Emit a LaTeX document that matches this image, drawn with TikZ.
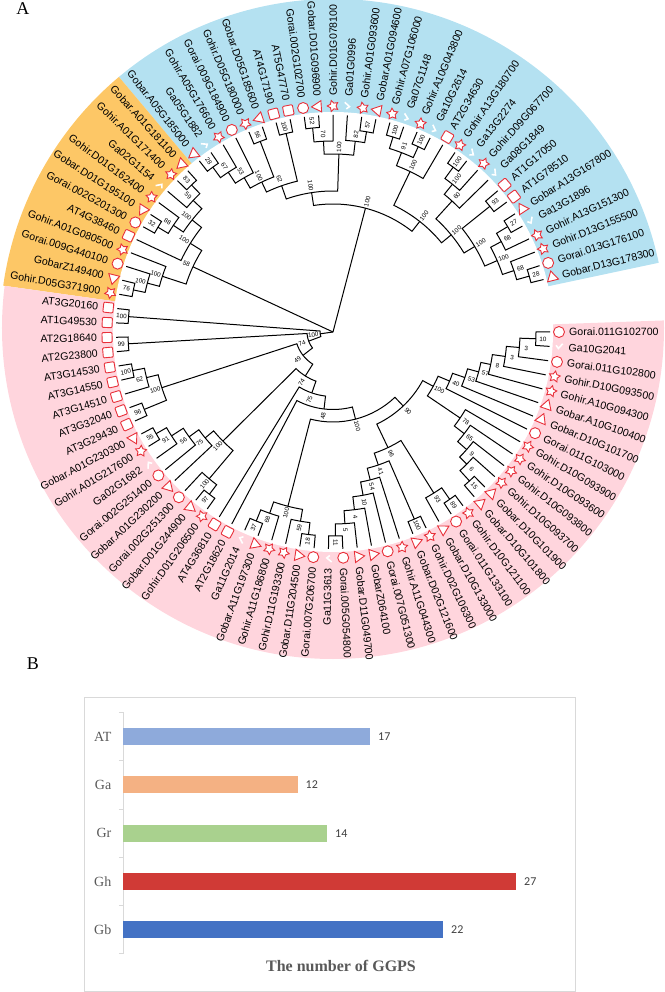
\documentclass[tikz,border=0pt]{standalone}
\usepackage{fontspec}
\setmainfont{Liberation Sans}
\newfontfamily\serifpart{Liberation Serif}
\newfontfamily\valuepart{Carlito}
\usetikzlibrary{shapes.geometric}

\definecolor{bandblue}{HTML}{B4E1F1}
\definecolor{bandorange}{HTML}{FDC766}
\definecolor{bandpink}{HTML}{FFD5DD}
\definecolor{markred}{HTML}{E8303A}
\definecolor{axisgray}{HTML}{D9D9D9}
\definecolor{textgray}{HTML}{595959}

\tikzset{
    branch/.style={line width=1pt,black},
    support/.style={inner sep=0pt,font=\fontsize{6.3}{6.3}\selectfont},
    genename/.style={inner sep=0pt,font=\fontsize{10.6}{11}\selectfont},
    symbol/.style={draw=markred,fill=white,line width=0.9pt,inner sep=0pt},
    countbar/.style={inner sep=0pt},
    catname/.style={anchor=east,inner sep=0pt,text=textgray,font=\serifpart\fontsize{14}{14}\selectfont},
    barvalue/.style={anchor=west,inner sep=0pt,text=black!75,font=\valuepart\fontsize{12}{13}\selectfont},
}

% symbols on the ring
\newcommand{\marksqu}[2]{\node[symbol,rectangle,rounded corners=1pt,minimum size=10pt,rotate=#1] (#2) at (#1:226pt) {};}
\newcommand{\markcir}[2]{\node[symbol,circle,minimum size=11pt] (#2) at (#1:226pt) {};}
\newcommand{\marktri}[2]{\node[symbol,regular polygon,regular polygon sides=3,minimum size=13pt,rotate=#1] (#2) at (#1:226pt) {};}
\newcommand{\marksta}[2]{\node[symbol,star,star points=5,star point ratio=1.9,minimum size=11.5pt,rotate=#1] (#2) at (#1:226pt) {};}
\newcommand{\markchk}[2]{\draw[white,line width=1.6pt,shift={(#1:226pt)},rotate=#1-90] (-3.5,4) -- (1.5,0) -- (-1.5,-2.5);}

% leaf: key, angle, text, symbol
\newcommand{\geneleaf}[4]{%
    \expandafter\xdef\csname ang@#1\endcsname{#2}%
    \coordinate (#1) at (#2:217pt);%
    \csname mark#4\endcsname{#2}{m#1}%
    \pgfmathsetmacro\txtrot{(#2>90 && #2<270) ? #2-180 : #2}%
    \pgfmathsetmacro\isflip{(#2>90 && #2<270) ? 1 : 0}%
    \ifdim\isflip pt>0.5pt
        \node[genename,anchor=east,rotate=\txtrot] (t#1) at (#2:236pt) {#3};%
    \else
        \node[genename,anchor=west,rotate=\txtrot] (t#1) at (#2:236pt) {#3};%
    \fi
}

% inner node: name, radius, first child, second child, support
\newcommand{\clade}[5]{%
    \edef\angA{\csname ang@#3\endcsname}%
    \edef\angB{\csname ang@#4\endcsname}%
    \pgfmathsetmacro\angM{(\angA+\angB)/2}%
    \expandafter\xdef\csname ang@#1\endcsname{\angM}%
    \coordinate (#1) at (\angM:#2pt);%
    \draw[branch] (#3) -- (\angA:#2pt) arc[start angle=\angA,end angle=\angB,radius=#2pt] -- (#4);%
    \pgfmathsetmacro\txtrot{(\angM>90 && \angM<270) ? \angM-180 : \angM}%
    \pgfmathsetmacro\radL{#2+7}%
    \node[support,rotate=\txtrot] (s#1) at (\angM:\radL pt) {#5};%
}

\begin{document}
\begin{tikzpicture}[x=1pt,y=1pt]
    \useasboundingbox (-333,-660) rectangle (331,332);

    % Bands
    \fill[bandblue] (0,0) -- (12:333) arc[start angle=12,end angle=130,radius=333] -- cycle;
    \fill[bandorange] (0,0) -- (130:333) arc[start angle=130,end angle=172,radius=333] -- cycle;
    \begin{scope}
        \clip (0,0) -- (172:500) -- (225:600) -- (270:600) -- (315:600) -- (2:500) -- cycle;
        \fill[bandpink] (0,4) circle[radius=331];
    \end{scope}
    \fill[white] (0,0) circle[radius=220];

    % Leaves, blue part
    \foreach \gene/\sym [count=\k from 0] in {
        Gobar.A05G185000/tri,Ga05G1882/chk,Gohir.A05G176600/sta,Gorai.009G184900/cir,
        Gohir.D05G180000/sta,Gobar.D05G185600/tri,AT4G17190/squ,AT5G47770/squ,
        Gorai.002G102700/cir,Gobar.D01G096900/tri,Gohir.D01G078100/sta,Ga01G0996/chk,
        Gohir.A01G093600/sta,Gobar.A01G094600/tri,Gohir.A07G106000/sta,Ga07G1148/chk,
        Gohir.A10G043800/sta,Ga10G2614/chk,AT2G34630/squ,Gohir.A13G180700/sta,
        Ga13G2274/chk,Gohir.D09G067700/sta,Ga08G1849/chk,AT1G17050/squ,AT1G78510/squ,
        Gobar.A13G167800/tri,Ga13G1896/chk,Gohir.A13G151300/sta,Gohir.D13G155500/sta,
        Gorai.013G176100/cir,Gobar.D13G178300/tri}{
        \pgfmathsetmacro\ang{128-3.8*\k}
        \geneleaf{b\k}{\ang}{\gene}{\sym}
    }
    % Leaves, orange part
    \foreach \gene/\sym [count=\k from 1] in {
        Gohir.D05G371900/sta,GobarZ149400/tri,Gorai.009G440100/cir,Gohir.A01G080500/sta,
        AT4G38460/squ,Gorai.002G201300/cir,Gobar.D01G195100/tri,Gohir.D01G162400/sta,
        Ga02G1154/chk,Gohir.A01G171400/sta,Gobar.A01G181100/tri}{
        \pgfmathsetmacro\ang{170-3.8*(\k-1)}
        \geneleaf{o\k}{\ang}{\gene}{\sym}
    }
    % Leaves, pink part
    \foreach \gene/\sym [count=\k from 1] in {
        Gorai.011G102700/cir,Ga10G2041/chk,Gorai.011G102800/cir,Gohir.D10G093500/sta,
        Gohir.A10G094300/sta,Gobar.A10G100400/tri,Gobar.D10G101700/tri,Gorai.011G103000/cir,
        Gohir.D10G093900/sta,Gohir.D10G093600/sta,Gohir.D10G093800/sta,Gohir.D10G093700/sta,
        Gobar.D10G101900/tri,Gobar.D10G101800/tri,Gohir.D10G121100/sta,Gorai.011G133100/cir,
        Gobar.D10G133000/tri,Gohir.D02G106300/sta,Gobar.D02G121600/tri,Gohir.A11G044300/sta,
        Gorai.007G051300/cir,GobarZ064100/tri,Gobar.D11G049700/tri,Gorai.005G054800/cir,
        Ga11G3613/chk,Gorai.007G206700/cir,Gobar.D11G204500/tri,Gohir.D11G193300/sta,
        Gohir.A11G186800/sta,Gobar.A11G197300/tri,Ga11G2014/chk,AT2G18620/squ,AT4G36810/squ,
        Gohir.D01G206500/sta,Gobar.D01G244900/tri,Gorai.002G251300/cir,Gobar.A01G230200/tri,
        Gorai.002G251400/cir,Ga02G1682/chk,Gohir.A01G217600/sta,Gobar.A01G230300/tri,
        AT3G29430/squ,AT3G32040/squ,AT3G14510/squ,AT3G14550/squ,AT3G14530/squ,AT2G23800/squ,
        AT2G18640/squ,AT1G49530/squ,AT3G20160/squ}{
        \pgfmathsetmacro\ang{360-3.8*(\k-1)}
        \geneleaf{r\k}{\ang}{\gene}{\sym}
    }

    % Tree, blue part
    \clade{cA}{204}{b0}{b1}{28}
    \clade{cB}{191}{cA}{b2}{67}
    \clade{cC}{178}{cB}{b3}{53}
    \clade{cD}{204}{b4}{b5}{56}
    \clade{cE}{166}{cC}{cD}{100}
    \clade{cF}{204}{b6}{b7}{100}
    \clade{cG}{155}{cE}{cF}{62}
    \clade{cH}{205}{b8}{b9}{52}
    \clade{cI}{191}{cH}{b10}{70}
    \clade{cJ}{203}{b12}{b13}{57}
    \clade{cK}{192}{b11}{cJ}{82}
    \clade{cL}{178}{cI}{cK}{100}
    \clade{cM}{141}{cG}{cL}{100}
    \clade{cN}{204}{b14}{b15}{100}
    \clade{cO}{204}{b16}{b17}{100}
    \clade{cP}{192}{cN}{cO}{91}
    \clade{cQ}{178}{cP}{b18}{100}
    \clade{cR}{204}{b19}{b20}{100}
    \clade{cS}{190}{cR}{b21}{100}
    \clade{cT}{177}{cS}{b22}{60}
    \clade{cU}{201}{b23}{b24}{93}
    \clade{cV}{204}{b25}{b26}{27}
    \clade{cW}{191}{cV}{b27}{68}
    \clade{cX}{204}{b29}{b30}{28}
    \clade{cY}{191}{b28}{cX}{68}
    \clade{cZ}{179}{cW}{cY}{100}
    \clade{cAA}{165.5}{cU}{cZ}{100}
    \clade{cAB}{153}{cT}{cAA}{100}
    \clade{cAC}{140.5}{cQ}{cAB}{100}
    \clade{blueroot}{128}{cM}{cAC}{100}

    % Tree, orange part
    \clade{dA}{204}{o10}{o11}{83}
    \clade{dB}{192}{dA}{o9}{59}
    \clade{dC}{204}{o6}{o7}{32}
    \clade{dD}{192}{dC}{o8}{88}
    \clade{dE}{180}{dB}{dD}{100}
    \clade{dF}{168}{dE}{o5}{100}
    \clade{dG}{204}{o1}{o2}{76}
    \clade{dH}{192}{dG}{o3}{100}
    \clade{dI}{179.5}{dH}{o4}{100}
    \clade{orangeroot}{154.5}{dF}{dI}{58}

    % Tree, pink part
    \clade{eA}{205}{r50}{r49}{100}
    \clade{eB}{205}{r48}{r47}{99}
    \clade{eC}{204}{r46}{r45}{100}
    \clade{eD}{192}{eC}{r44}{62}
    \clade{eE}{204}{r43}{r42}{96}
    \clade{eF}{180}{eD}{eE}{100}
    \clade{eG}{204}{r41}{r40}{55}
    \clade{eH}{192}{eG}{r39}{91}
    \clade{eI}{178}{eH}{r38}{56}
    \clade{eJ}{166}{eI}{r37}{75}
    \clade{eK}{204}{r35}{r34}{97}
    \clade{eL}{192}{r36}{eK}{100}
    \clade{eM}{155}{eJ}{eL}{100}
    \clade{fA}{204}{r31}{r30}{37}
    \clade{fB}{192}{fA}{r29}{68}
    \clade{fC}{204}{r27}{r26}{18}
    \clade{fD}{192}{r28}{fC}{59}
    \clade{fE}{180}{fB}{fD}{100}
    \clade{fF}{204}{r25}{r24}{11}
    \clade{fG}{192}{fF}{r23}{5}
    \clade{fH}{179}{fG}{r22}{4}
    \clade{fI}{166}{fH}{r21}{10}
    \clade{fJ}{152.5}{fI}{r20}{54}
    \clade{fK}{204}{r19}{r18}{100}
    \clade{fL}{140.5}{fJ}{fK}{41}
    \clade{fM}{204}{r16}{r15}{89}
    \clade{fN}{190}{r17}{fM}{93}
    \clade{fO}{128}{fL}{fN}{96}
    \clade{gA}{203}{r2}{r1}{10}
    \clade{gB}{187}{gA}{r3}{3}
    \clade{gC}{174}{gB}{r4}{3}
    \clade{gD}{161}{gC}{r5}{8}
    \clade{gE}{151}{gD}{r6}{57}
    \clade{gF}{139.5}{gE}{r7}{53}
    \clade{gG}{126.5}{gF}{r8}{40}
    \clade{gH}{202}{r14}{r13}{15}
    \clade{gI}{188}{gH}{r12}{6}
    \clade{gJ}{178}{gI}{r11}{9}
    \clade{gK}{166}{gJ}{r10}{65}
    \clade{gL}{153.5}{gK}{r9}{78}
    \clade{gM}{114}{gG}{gL}{100}
    \clade{gN}{102}{fO}{gM}{90}
    \clade{gP}{90}{fE}{gN}{100}
    \clade{hF}{77.5}{r32}{gP}{48}
    \clade{hE}{64.5}{r33}{hF}{75}
    \clade{hD}{52}{eM}{hE}{74}
    \clade{hC}{38}{eF}{hD}{49}
    \clade{hB}{26}{eB}{hC}{74}
    \clade{hA}{13}{eA}{hB}{100}

    % Root
    \coordinate (root) at (0,0);
    \draw[branch] (root) -- (blueroot);
    \draw[branch] (root) -- (orangeroot);
    \draw[branch] (root) -- (hA);

    % Panel letters and chart, in picture pixels
    \begin{scope}[shift={(-333,332)},y=-1pt]
        \node[inner sep=0pt,font=\serifpart\fontsize{18}{18}\selectfont] (panelA) at (23,9) {A};
        \node[inner sep=0pt,font=\serifpart\fontsize{18}{18}\selectfont] (panelB) at (33,664) {B};

        % Frame
        \draw[axisgray,line width=0.9pt] (84.6,697.7) rectangle (575,991.3);

        % Axis
        \draw[axisgray,line width=0.8pt] (123,712) -- (123,953.7);
        \foreach \tick in {712,760.5,809,857,905.5,953.7}
            \draw[axisgray,line width=0.8pt] (119,\tick) -- (123,\tick);

        % Bars
        \foreach \cat/\barend/\mid/\val/\barcol in {
            AT/370/736.8/17/8EAADB,Ga/297.5/784.8/12/F4B183,Gr/327/833.2/14/A9D18E,
            Gh/516/881.3/27/D03A36,Gb/443/929.3/22/4472C4}{
            \definecolor{barnow}{HTML}{\barcol}
            \fill[barnow] (123,\mid-8.6) rectangle (\barend,\mid+8.6);
            \node[catname] (cat\cat) at (111.5,\mid) {\cat};
            \node[barvalue] (val\cat) at (\barend+8,\mid) {\val};
        }

        \node[inner sep=0pt,text=textgray,font=\serifpart\bfseries\fontsize{16}{16}\selectfont] (charttitle) at (341,965.7) {The number of GGPS};
    \end{scope}
\end{tikzpicture}
\end{document}
